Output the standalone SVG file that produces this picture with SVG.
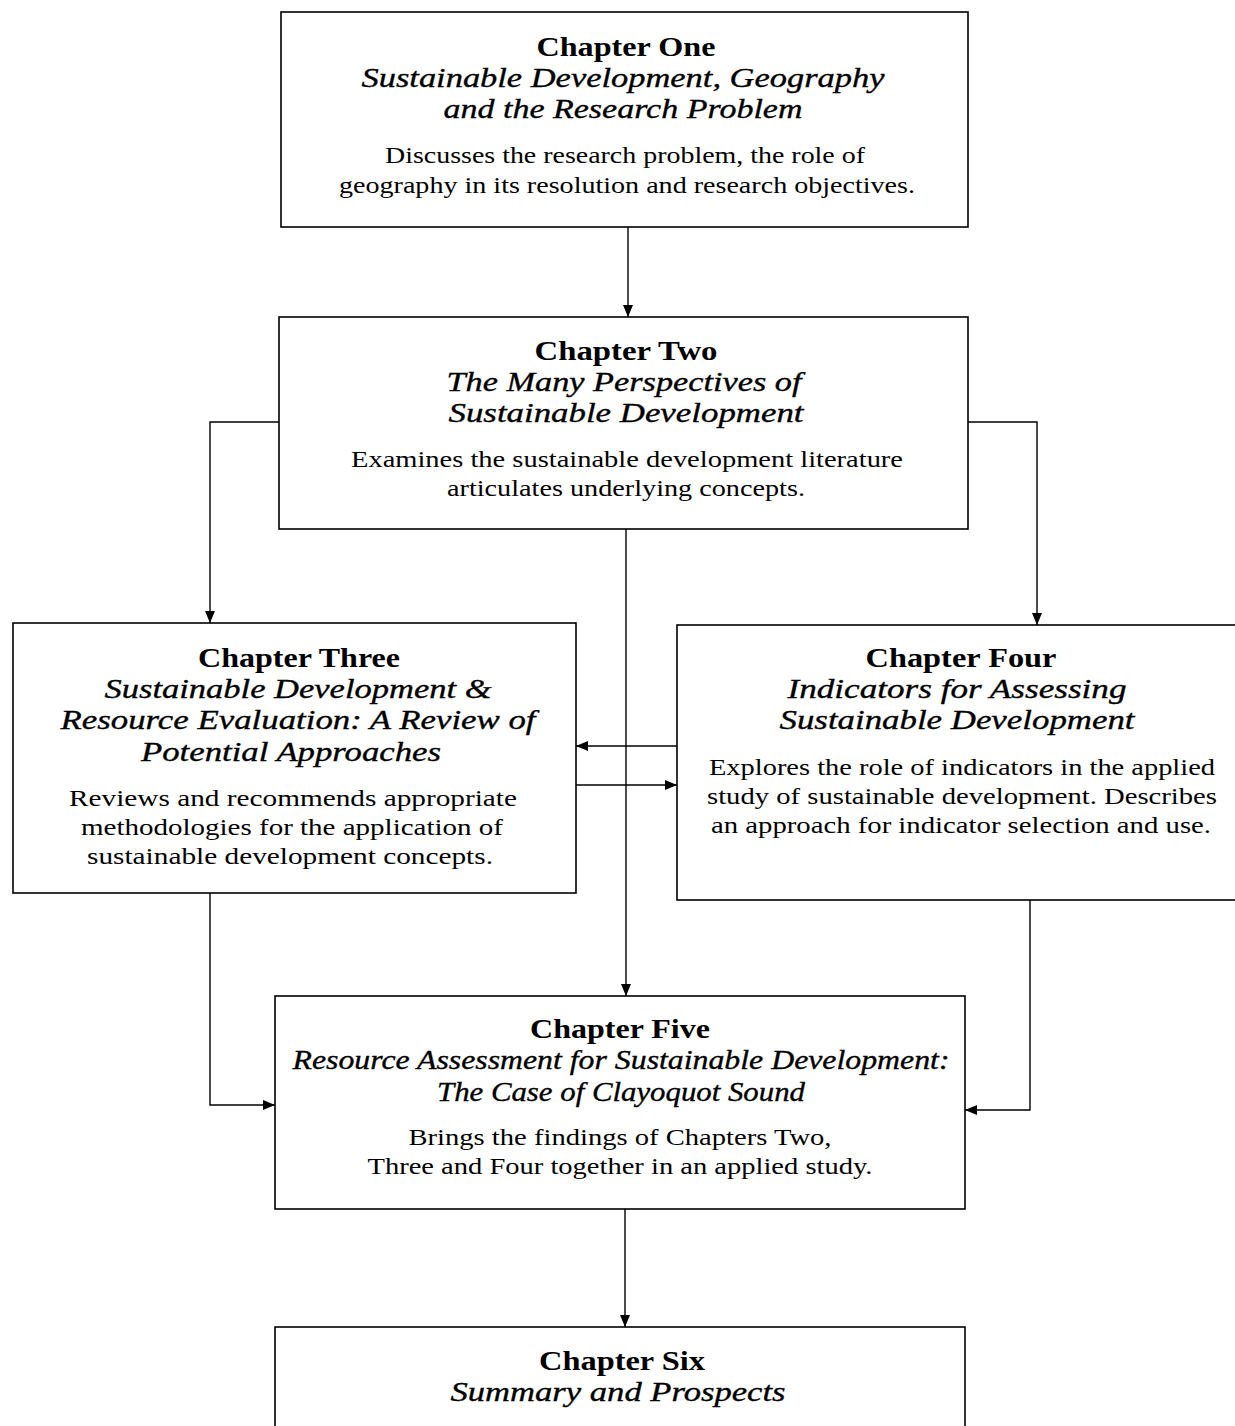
<svg xmlns="http://www.w3.org/2000/svg" width="1235" height="1426" viewBox="0 0 1235 1426">
  <style>
    .box { fill: #ffffff; stroke: #000000; stroke-width: 1.6; }
    .edge { fill: none; stroke: #000000; stroke-width: 1.4; }
    text { font-family: "Liberation Serif", "DejaVu Serif", serif; fill: #000000; text-anchor: middle; }
    .title { font-size: 28px; font-weight: bold; }
    .sub { font-size: 28px; font-style: italic; stroke: #000000; stroke-width: 0.35px; }
    .body { font-size: 23px; }
  </style>
  <defs>
    <marker id="arrow" viewBox="0 0 12 10" refX="12" refY="5" markerWidth="12" markerHeight="10" markerUnits="userSpaceOnUse" orient="auto">
      <path d="M0,0 L12,5 L0,10 Z" fill="#000000"/>
    </marker>
  </defs>
  <rect width="1235" height="1426" fill="#ffffff"/>

  <!-- connectors -->
  <g id="connectors">
    <path class="edge" d="M628,227 V317" marker-end="url(#arrow)"/>
    <path class="edge" d="M279,422 H210 V623" marker-end="url(#arrow)"/>
    <path class="edge" d="M968,422 H1037 V625" marker-end="url(#arrow)"/>
    <path class="edge" d="M626,529 V996" marker-end="url(#arrow)"/>
    <path class="edge" d="M677,746 H576" marker-end="url(#arrow)"/>
    <path class="edge" d="M576,785 H677" marker-end="url(#arrow)"/>
    <path class="edge" d="M210,893 V1105 H275" marker-end="url(#arrow)"/>
    <path class="edge" d="M1030,900 V1110 H965" marker-end="url(#arrow)"/>
    <path class="edge" d="M625,1209 V1327" marker-end="url(#arrow)"/>
  </g>

  <!-- Chapter One -->
  <g id="chapter-one">
    <rect class="box" x="281" y="12" width="687" height="215"/>
    <text class="title" x="626" y="56" textLength="179" lengthAdjust="spacingAndGlyphs">Chapter One</text>
    <text class="sub" x="623" y="87" textLength="523" lengthAdjust="spacingAndGlyphs">Sustainable Development, Geography</text>
    <text class="sub" x="623" y="118" textLength="359" lengthAdjust="spacingAndGlyphs">and the Research Problem</text>
    <text class="body" x="625" y="163" textLength="480" lengthAdjust="spacingAndGlyphs">Discusses the research problem, the role of</text>
    <text class="body" x="627" y="193" textLength="576" lengthAdjust="spacingAndGlyphs">geography in its resolution and research objectives.</text>
  </g>

  <!-- Chapter Two -->
  <g id="chapter-two">
    <rect class="box" x="279" y="317" width="689" height="212"/>
    <text class="title" x="626" y="360" textLength="183" lengthAdjust="spacingAndGlyphs">Chapter Two</text>
    <text class="sub" x="624" y="391" textLength="355" lengthAdjust="spacingAndGlyphs">The Many Perspectives of</text>
    <text class="sub" x="626" y="422" textLength="355" lengthAdjust="spacingAndGlyphs">Sustainable Development</text>
    <text class="body" x="627" y="467" textLength="552" lengthAdjust="spacingAndGlyphs">Examines the sustainable development literature</text>
    <text class="body" x="626" y="496" textLength="358" lengthAdjust="spacingAndGlyphs">articulates underlying concepts.</text>
  </g>

  <!-- Chapter Three -->
  <g id="chapter-three">
    <rect class="box" x="13" y="623" width="563" height="270"/>
    <text class="title" x="299" y="667" textLength="202" lengthAdjust="spacingAndGlyphs">Chapter Three</text>
    <text class="sub" x="298" y="698" textLength="387" lengthAdjust="spacingAndGlyphs">Sustainable Development &amp;</text>
    <text class="sub" x="298" y="729" textLength="475" lengthAdjust="spacingAndGlyphs">Resource Evaluation: A Review of</text>
    <text class="sub" x="291" y="761" textLength="300" lengthAdjust="spacingAndGlyphs">Potential Approaches</text>
    <text class="body" x="293" y="806" textLength="448" lengthAdjust="spacingAndGlyphs">Reviews and recommends appropriate</text>
    <text class="body" x="292" y="835" textLength="422" lengthAdjust="spacingAndGlyphs">methodologies for the application of</text>
    <text class="body" x="290" y="864" textLength="406" lengthAdjust="spacingAndGlyphs">sustainable development concepts.</text>
  </g>

  <!-- Chapter Four -->
  <g id="chapter-four">
    <rect class="box" x="677" y="625" width="575" height="275"/>
    <text class="title" x="961" y="667" textLength="191" lengthAdjust="spacingAndGlyphs">Chapter Four</text>
    <text class="sub" x="957" y="698" textLength="339" lengthAdjust="spacingAndGlyphs">Indicators for Assessing</text>
    <text class="sub" x="957" y="729" textLength="355" lengthAdjust="spacingAndGlyphs">Sustainable Development</text>
    <text class="body" x="962" y="775" textLength="506" lengthAdjust="spacingAndGlyphs">Explores the role of indicators in the applied</text>
    <text class="body" x="962" y="804" textLength="510" lengthAdjust="spacingAndGlyphs">study of sustainable development. Describes</text>
    <text class="body" x="961" y="833" textLength="500" lengthAdjust="spacingAndGlyphs">an approach for indicator selection and use.</text>
  </g>

  <!-- Chapter Five -->
  <g id="chapter-five">
    <rect class="box" x="275" y="996" width="690" height="213"/>
    <text class="title" x="620" y="1038" textLength="180" lengthAdjust="spacingAndGlyphs">Chapter Five</text>
    <text class="sub" x="621" y="1069" textLength="657" lengthAdjust="spacingAndGlyphs">Resource Assessment for Sustainable Development:</text>
    <text class="sub" x="621" y="1101" textLength="368" lengthAdjust="spacingAndGlyphs">The Case of Clayoquot Sound</text>
    <text class="body" x="620" y="1145" textLength="423" lengthAdjust="spacingAndGlyphs">Brings the findings of Chapters Two,</text>
    <text class="body" x="620" y="1174" textLength="505" lengthAdjust="spacingAndGlyphs">Three and Four together in an applied study.</text>
  </g>

  <!-- Chapter Six -->
  <g id="chapter-six">
    <rect class="box" x="275" y="1327" width="690" height="130"/>
    <text class="title" x="622" y="1370" textLength="166" lengthAdjust="spacingAndGlyphs">Chapter Six</text>
    <text class="sub" x="618" y="1401" textLength="335" lengthAdjust="spacingAndGlyphs">Summary and Prospects</text>
  </g>
</svg>
